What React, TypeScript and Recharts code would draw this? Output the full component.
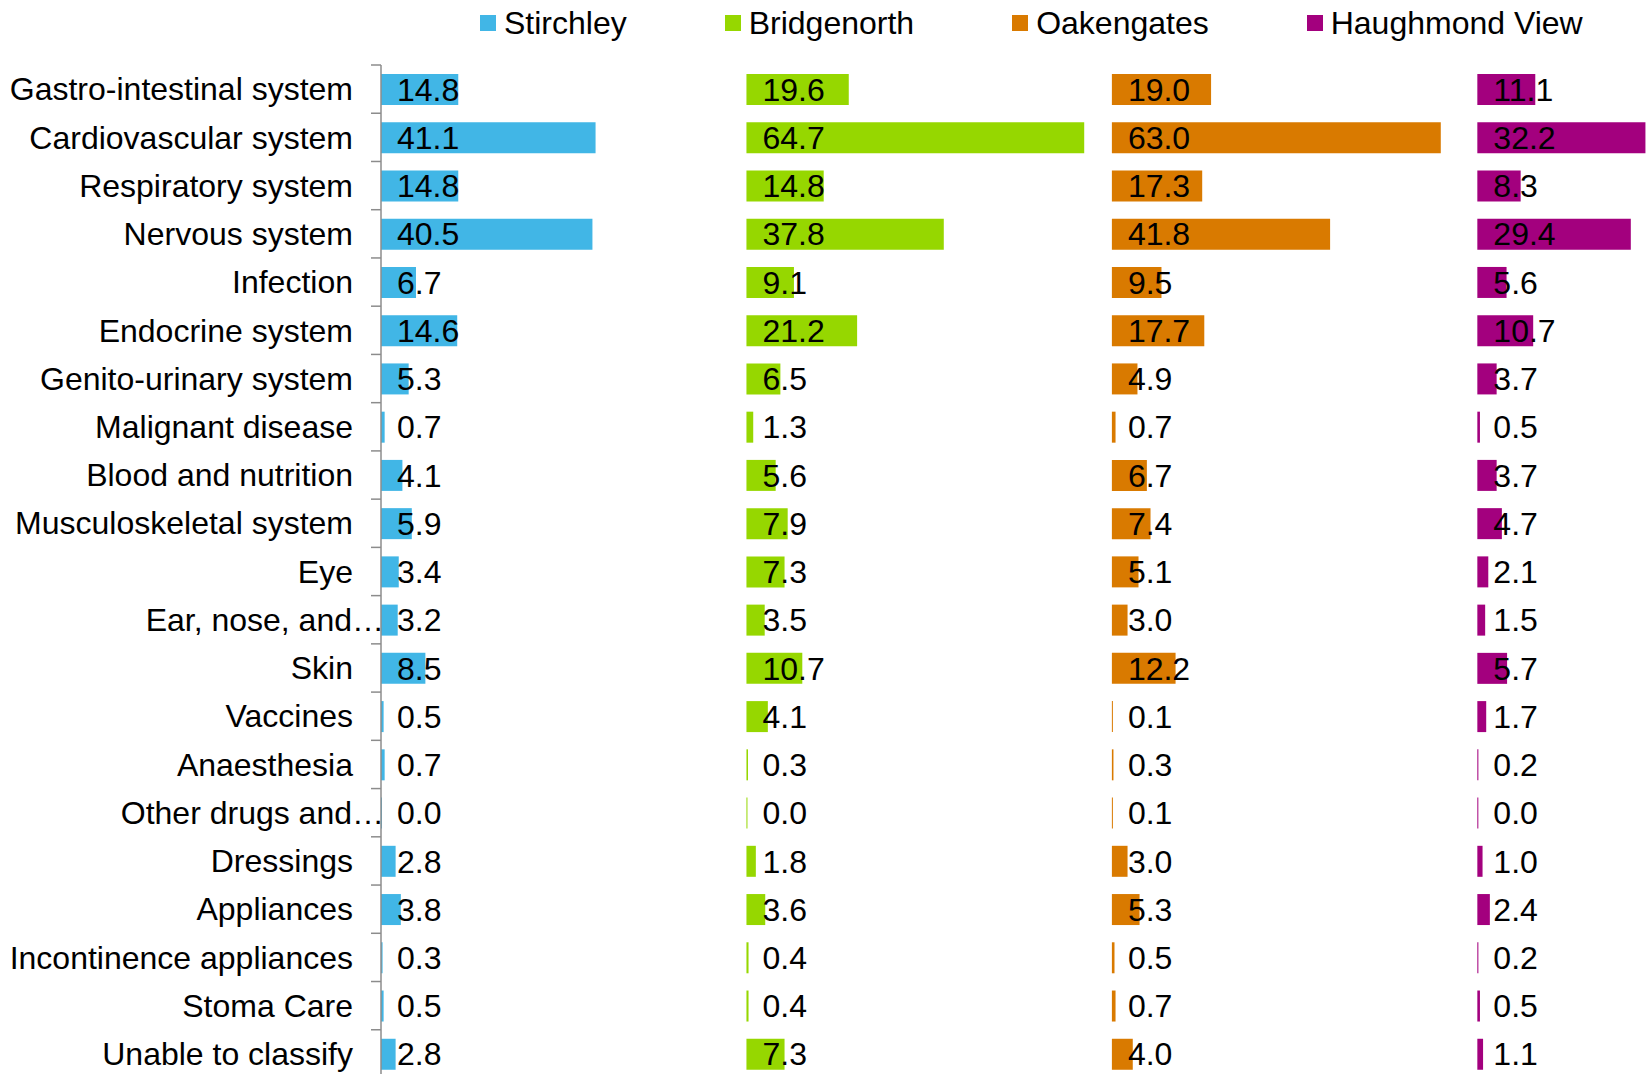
import { Bar, BarChart, LabelList, XAxis, YAxis } from "recharts";

const categories = [
  "Gastro-intestinal system",
  "Cardiovascular system",
  "Respiratory system",
  "Nervous system",
  "Infection",
  "Endocrine system",
  "Genito-urinary system",
  "Malignant disease",
  "Blood and nutrition",
  "Musculoskeletal system",
  "Eye",
  "Ear, nose, and…",
  "Skin",
  "Vaccines",
  "Anaesthesia",
  "Other drugs and…",
  "Dressings",
  "Appliances",
  "Incontinence appliances",
  "Stoma Care",
  "Unable to classify",
];

const stirchley = [14.8, 41.1, 14.8, 40.5, 6.7, 14.6, 5.3, 0.7, 4.1, 5.9, 3.4, 3.2, 8.5, 0.5, 0.7, 0.0, 2.8, 3.8, 0.3, 0.5, 2.8];
const bridgenorth = [19.6, 64.7, 14.8, 37.8, 9.1, 21.2, 6.5, 1.3, 5.6, 7.9, 7.3, 3.5, 10.7, 4.1, 0.3, 0.0, 1.8, 3.6, 0.4, 0.4, 7.3];
const oakengates = [19.0, 63.0, 17.3, 41.8, 9.5, 17.7, 4.9, 0.7, 6.7, 7.4, 5.1, 3.0, 12.2, 0.1, 0.3, 0.1, 3.0, 5.3, 0.5, 0.7, 4.0];
const haughmond = [11.1, 32.2, 8.3, 29.4, 5.6, 10.7, 3.7, 0.5, 3.7, 4.7, 2.1, 1.5, 5.7, 1.7, 0.2, 0.0, 1.0, 2.4, 0.2, 0.5, 1.1];

const seriesNames = ["Stirchley", "Bridgenorth", "Oakengates", "Haughmond View"];
const seriesColors = ["#41b6e6", "#96d700", "#d97a00", "#a3007e"];

// each practice gets its own 70-unit panel
const PANEL = 70;

const data = categories.map((name, i) => ({
  name,
  s0: stirchley[i],
  g0: PANEL - stirchley[i],
  s1: bridgenorth[i],
  g1: PANEL - bridgenorth[i],
  s2: oakengates[i],
  g2: PANEL - oakengates[i],
  s3: haughmond[i],
}));

const FONT = "'Liberation Sans', Arial, sans-serif";
const FS = 32;

const CategoryTick = (props: any) => {
  const { x, y, payload, index } = props;
  const half = payload?.offset ?? 24;
  const label = String(payload.value);
  const shift = label.endsWith("…") ? 31 : 0;
  return (
    <g>
      <line x1={x + 18} x2={x + 28} y1={y - half} y2={y - half} stroke="#8c8c8c" strokeWidth={1.5} />
      {index === categories.length - 1 && (
        <line x1={x + 18} x2={x + 28} y1={y + half} y2={y + half} stroke="#8c8c8c" strokeWidth={1.5} />
      )}
      <text x={x + shift} y={y} dy="0.35em" textAnchor="end" fontSize={FS} fill="#000" fontFamily={FONT}>
        {label}
      </text>
    </g>
  );
};

const ValueLabel = (props: any) => {
  const { x, y, height, value } = props;
  return (
    <text x={x + 16} y={y + height / 2} dy="0.35em" fontSize={FS} fill="#000" fontFamily={FONT}>
      {Number(value).toFixed(1)}
    </text>
  );
};

const LegendRow = () => (
  <div
    style={{
      position: "absolute",
      left: 480,
      top: 0,
      height: 46,
      display: "flex",
      alignItems: "center",
      gap: 98,
      fontFamily: FONT,
      fontSize: FS,
      color: "#000",
      whiteSpace: "nowrap",
    }}
  >
    {seriesNames.map((n, i) => (
      <div key={n} style={{ display: "flex", alignItems: "center", gap: 8 }}>
        <span style={{ width: 16, height: 16, background: seriesColors[i], display: "inline-block" }} />
        <span>{n}</span>
      </div>
    ))}
  </div>
);

export default function App() {
  return (
    <div style={{ position: "absolute", left: 0, top: 0, width: 1647, height: 1074, overflow: "hidden", background: "#fff" }}>
      <BarChart
        width={1647}
        height={1080}
        data={data}
        layout="vertical"
        margin={{ top: 65, right: 0, bottom: 2, left: 0 }}
      >
        <XAxis type="number" hide domain={[0, 242.5]} allowDataOverflow />
        <YAxis
          type="category"
          dataKey="name"
          width={381}
          interval={0}
          tickLine={false}
          tickSize={0}
          tickMargin={28}
          axisLine={{ stroke: "#8c8c8c", strokeWidth: 1.5 }}
          tick={<CategoryTick />}
        />
        <Bar dataKey="s0" stackId="a" fill={seriesColors[0]} barSize={31} minPointSize={1} isAnimationActive={false}>
          <LabelList dataKey="s0" content={<ValueLabel />} />
        </Bar>
        <Bar dataKey="g0" stackId="a" fill="transparent" legendType="none" isAnimationActive={false} />
        <Bar dataKey="s1" stackId="a" fill={seriesColors[1]} barSize={31} minPointSize={1} isAnimationActive={false}>
          <LabelList dataKey="s1" content={<ValueLabel />} />
        </Bar>
        <Bar dataKey="g1" stackId="a" fill="transparent" legendType="none" isAnimationActive={false} />
        <Bar dataKey="s2" stackId="a" fill={seriesColors[2]} barSize={31} minPointSize={1} isAnimationActive={false}>
          <LabelList dataKey="s2" content={<ValueLabel />} />
        </Bar>
        <Bar dataKey="g2" stackId="a" fill="transparent" legendType="none" isAnimationActive={false} />
        <Bar dataKey="s3" stackId="a" fill={seriesColors[3]} barSize={31} minPointSize={1} isAnimationActive={false}>
          <LabelList dataKey="s3" content={<ValueLabel />} />
        </Bar>
      </BarChart>
      <LegendRow />
    </div>
  );
}
